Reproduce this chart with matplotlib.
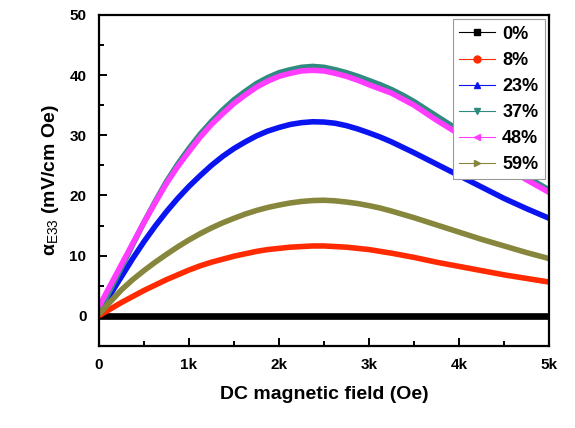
import numpy as np
from matplotlib import pyplot as plt
from matplotlib.lines import Line2D
from matplotlib.ticker import MultipleLocator, FixedLocator, FixedFormatter

plt.rcParams["font.family"] = ["Liberation Sans", "DejaVu Sans"]
plt.rcParams["mathtext.fontset"] = "custom"
plt.rcParams["mathtext.rm"] = "Liberation Sans"
plt.rcParams["mathtext.bf"] = "Liberation Sans:bold"
plt.rcParams["mathtext.default"] = "bf"

# DC field (Oe)
field = [0, 125, 250, 375, 500, 625, 750, 875, 1000, 1125, 1250, 1375,
         1500, 1625, 1750, 1875, 2000, 2125, 2250, 2375, 2500, 2625,
         2750, 2875, 3000, 3125, 3250, 3375, 3500, 3625, 3750, 3875,
         4000, 4125, 4250, 4375, 4500, 4625, 4750, 4875, 5000]

labels = ["0%", "8%", "23%", "37%", "48%", "59%"]

s0 = [0.0] * 41
s8 = [0.0, 1.1, 2.2, 3.2, 4.2, 5.1, 6.0, 6.8, 7.6, 8.3, 8.9, 9.4,
      9.9, 10.3, 10.7, 11.0, 11.2, 11.4, 11.5, 11.6, 11.6, 11.5,
      11.4, 11.2, 11.0, 10.7, 10.4, 10.05, 9.7, 9.3, 8.9, 8.55,
      8.2, 7.85, 7.5, 7.15, 6.8, 6.5, 6.2, 5.9, 5.6]
s23 = [0.3, 3.5, 6.5, 9.5, 12.3, 14.9, 17.3, 19.5, 21.5, 23.3, 25.0, 26.5,
       27.8, 28.9, 29.9, 30.7, 31.3, 31.8, 32.1, 32.25, 32.2, 32.0,
       31.6, 31.05, 30.4, 29.7, 28.9, 28.0, 27.1, 26.15, 25.2, 24.25,
       23.3, 22.35, 21.4, 20.45, 19.5, 18.65, 17.8, 17.0, 16.2]
s37 = [0.5, 4.3, 8.0, 11.8, 15.5, 19.0, 22.3, 25.2, 27.8, 30.2, 32.3, 34.2,
       35.9, 37.3, 38.6, 39.6, 40.4, 40.9, 41.3, 41.45, 41.3, 40.9,
       40.4, 39.8, 39.1, 38.4, 37.6, 36.65, 35.6, 34.4, 33.2, 32.0,
       30.8, 29.5, 28.2, 26.8, 25.5, 24.3, 23.1, 22.0, 20.9]
s48 = [1.5, 5.0, 8.5, 12.0, 15.5, 18.8, 22.0, 24.8, 27.3, 29.7, 31.8, 33.6,
       35.3, 36.7, 38.0, 39.0, 39.8, 40.3, 40.7, 40.8, 40.7, 40.3,
       39.8, 39.15, 38.4, 37.7, 37.0, 36.0, 35.0, 33.75, 32.5, 31.35,
       30.2, 28.95, 27.7, 26.3, 24.9, 23.75, 22.6, 21.55, 20.5]
s59 = [0.2, 2.3, 4.3, 6.0, 7.5, 8.9, 10.2, 11.45, 12.6, 13.65, 14.6, 15.45,
       16.2, 16.9, 17.5, 18.0, 18.4, 18.75, 19.0, 19.15, 19.2, 19.1,
       18.9, 18.65, 18.3, 17.9, 17.4, 16.85, 16.3, 15.7, 15.1, 14.5,
       13.9, 13.3, 12.7, 12.15, 11.6, 11.05, 10.5, 10.0, 9.5]

series = [s0, s8, s23, s37, s48, s59]
colors = ["#000000", "#ff2a00", "#0a14f0", "#2f8a80", "#ff3cff", "#86863c"]
markers = ["s", "o", "^", "v", "<", ">"]
widths = [4.8, 4.0, 4.0, 4.0, 4.0, 4.0]

fig = plt.figure(figsize=(5.75, 4.28), dpi=100)
ax = fig.add_axes([0.172, 0.192, 0.783, 0.773])

for ys, c, w in zip(series, colors, widths):
    ax.plot(field, ys, color=c, lw=w, solid_capstyle="butt",
            solid_joinstyle="round")

ax.set_xlim(0, 5000)
ax.set_ylim(-5, 50)
ax.xaxis.set_major_locator(FixedLocator([0, 1000, 2000, 3000, 4000, 5000]))
ax.xaxis.set_major_formatter(FixedFormatter(["0", "1k", "2k", "3k", "4k", "5k"]))
ax.xaxis.set_minor_locator(MultipleLocator(500))
ax.yaxis.set_major_locator(FixedLocator([0, 10, 20, 30, 40, 50]))
ax.yaxis.set_minor_locator(MultipleLocator(5))
ax.tick_params(which="both", direction="in", width=1.4, top=False, right=False)
ax.tick_params(which="major", length=6, pad=9, labelsize=11)
ax.tick_params(which="minor", length=3.5)
for lab in ax.get_xticklabels() + ax.get_yticklabels():
    lab.set_fontweight("bold")
for sp in ax.spines.values():
    sp.set_linewidth(1.6)

ax.set_xlabel("DC magnetic field (Oe)", fontsize=14, fontweight="bold", labelpad=10)
ax.set_ylabel(r"$\alpha_{\mathrm{E33}}$ (mV/cm Oe)", fontsize=14, fontweight="bold", labelpad=6)

handles = [Line2D([0], [0], color=c, lw=0.8, marker=m, markersize=5,
                  markeredgecolor=c, markerfacecolor=c)
           for c, m in zip(colors, markers)]
leg = ax.legend(handles, labels, loc="upper right", fancybox=False,
                edgecolor="#999999", framealpha=1, handlelength=2.0,
                borderaxespad=0.25, labelspacing=0.5, handletextpad=0.4,
                borderpad=0.35, prop={"weight": "bold", "size": 13})
leg.get_frame().set_linewidth(0.8)

fig.savefig("out.png", dpi=100)
plt.close(fig)
